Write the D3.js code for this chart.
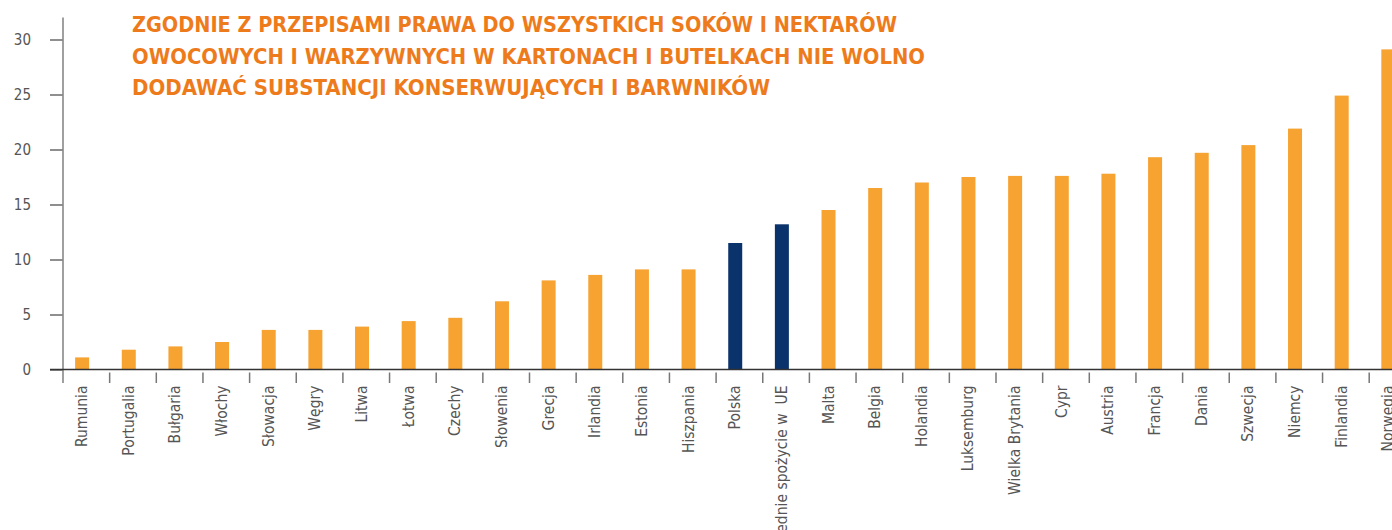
<!DOCTYPE html>
<html>
<head>
<meta charset="utf-8">
<script src="https://cdn.jsdelivr.net/npm/d3@7"></script>
<style>
  html, body { margin: 0; padding: 0; background: #fff; overflow: hidden; }
  #chart { width: 1392px; height: 530px; }
  text { font-family: "Liberation Sans Narrow", "DejaVu Sans Condensed", "Roboto Condensed", sans-serif; font-stretch: condensed; }
  .title { fill: #EE7B1B; font-size: 21.5px; font-weight: bold; }
  .tickLabel { fill: #555; font-size: 15px; }
  .catLabel { fill: #555; font-size: 15.5px; }
</style>
</head>
<body>
<div id="chart"></div>
<script>

// data
const countries = ["Rumunia", "Portugalia", "Bułgaria", "Włochy", "Słowacja", "Węgry", "Litwa",
    "Łotwa", "Czechy", "Słowenia", "Grecja", "Irlandia", "Estonia", "Hiszpania", "Polska",
    "Średnie spożycie w  UE", "Malta", "Belgia", "Holandia", "Luksemburg", "Wielka Brytania",
    "Cypr", "Austria", "Francja", "Dania", "Szwecja", "Niemcy", "Finlandia", "Norwegia"];
const values = [1.1, 1.8, 2.1, 2.5, 3.6, 3.6, 3.9, 4.4, 4.7, 6.2, 8.1, 8.6, 9.1, 9.1, 11.5,
    13.2, 14.5, 16.5, 17.0, 17.5, 17.6, 17.6, 17.8, 19.3, 19.7, 20.4, 21.9, 24.9, 29.1];
const highlighted = ["Polska", "Średnie spożycie w  UE"];
const yTicks = [0, 5, 10, 15, 20, 25, 30];
const titleLines = [
    "ZGODNIE Z PRZEPISAMI PRAWA DO WSZYSTKICH SOKÓW I NEKTARÓW",
    "OWOCOWYCH I WARZYWNYCH W KARTONACH I BUTELKACH NIE WOLNO",
    "DODAWAĆ SUBSTANCJI KONSERWUJĄCYCH I BARWNIKÓW"
];

const data = countries.map(function(c, i) { return {name: c, value: values[i]}; });

const width = 1392;
const height = 530;
const margin = {top: 17.5, left: 63, bottom: 160.5};
const step = 46.65;
// widths of the three title lines in the original layout
const titleWidths = [765, 793, 638];

const svg = d3.select("#chart")
    .append("svg")
    .attr("width", width)
    .attr("height", height);

const xScale = d3.scaleBand()
    .domain(countries)
    .range([margin.left, margin.left + step * countries.length])
    .padding(0);

const yScale = d3.scaleLinear()
    .domain([0, 32])
    .range([height - margin.bottom, margin.top]);

const baseY = yScale(0);

// bars
svg.selectAll("rect.bar")
    .data(data)
    .enter()
    .append("rect")
        .attr("class", "bar")
        .attr("x", function(d) { return xScale(d.name) + xScale.step() * 0.26; })
        .attr("y", function(d) { return yScale(d.value); })
        .attr("width", xScale.step() * 0.3)
        .attr("height", function(d) { return baseY - yScale(d.value); })
        .attr("fill", function(d) { return highlighted.includes(d.name) ? "#0B336B" : "#F6A332"; });

// y axis
const yAxis = svg.append("g")
    .attr("transform", `translate(${margin.left},0)`)
    .call(d3.axisLeft(yScale).tickValues(yTicks).tickSize(13).tickPadding(19));
yAxis.select(".domain").remove();
yAxis.selectAll(".tick line").attr("stroke", "#444").attr("stroke-width", 1.2);
yAxis.selectAll(".tick text").attr("class", "tickLabel").attr("font-family", null).attr("font-size", null);

svg.append("line")
    .attr("x1", margin.left).attr("x2", margin.left)
    .attr("y1", yScale(32)).attr("y2", baseY + 13.5)
    .attr("stroke", "#888").attr("stroke-width", 1.6);

// category separators below the baseline
svg.selectAll("line.sep")
    .data(countries.slice(1))
    .enter()
    .append("line")
        .attr("class", "sep")
        .attr("x1", function(d) { return xScale(d); })
        .attr("x2", function(d) { return xScale(d); })
        .attr("y1", baseY + 3)
        .attr("y2", baseY + 13.5)
        .attr("stroke", "#777")
        .attr("stroke-width", 1.5);

// baseline
svg.append("line")
    .attr("x1", 50).attr("x2", width)
    .attr("y1", baseY).attr("y2", baseY)
    .attr("stroke", "#333").attr("stroke-width", 1.5);

// category labels
svg.selectAll("text.catLabel")
    .data(countries)
    .enter()
    .append("text")
        .attr("class", "catLabel")
        .attr("xml:space", "preserve")
        .attr("text-anchor", "end")
        .attr("transform", function(d) {
            const cx = xScale(d) + xScale.step() * 0.41;
            return `translate(${cx + 5},${baseY + 16}) rotate(-90)`;
        })
        .text(function(d) { return d; });

// title
svg.selectAll("text.title")
    .data(titleLines)
    .enter()
    .append("text")
        .attr("class", "title")
        .attr("x", 132)
        .attr("y", function(d, i) { return 32 + i * 31.5; })
        .attr("textLength", function(d, i) { return titleWidths[i]; })
        .attr("lengthAdjust", "spacingAndGlyphs")
        .text(function(d) { return d; });

</script>
</body>
</html>
